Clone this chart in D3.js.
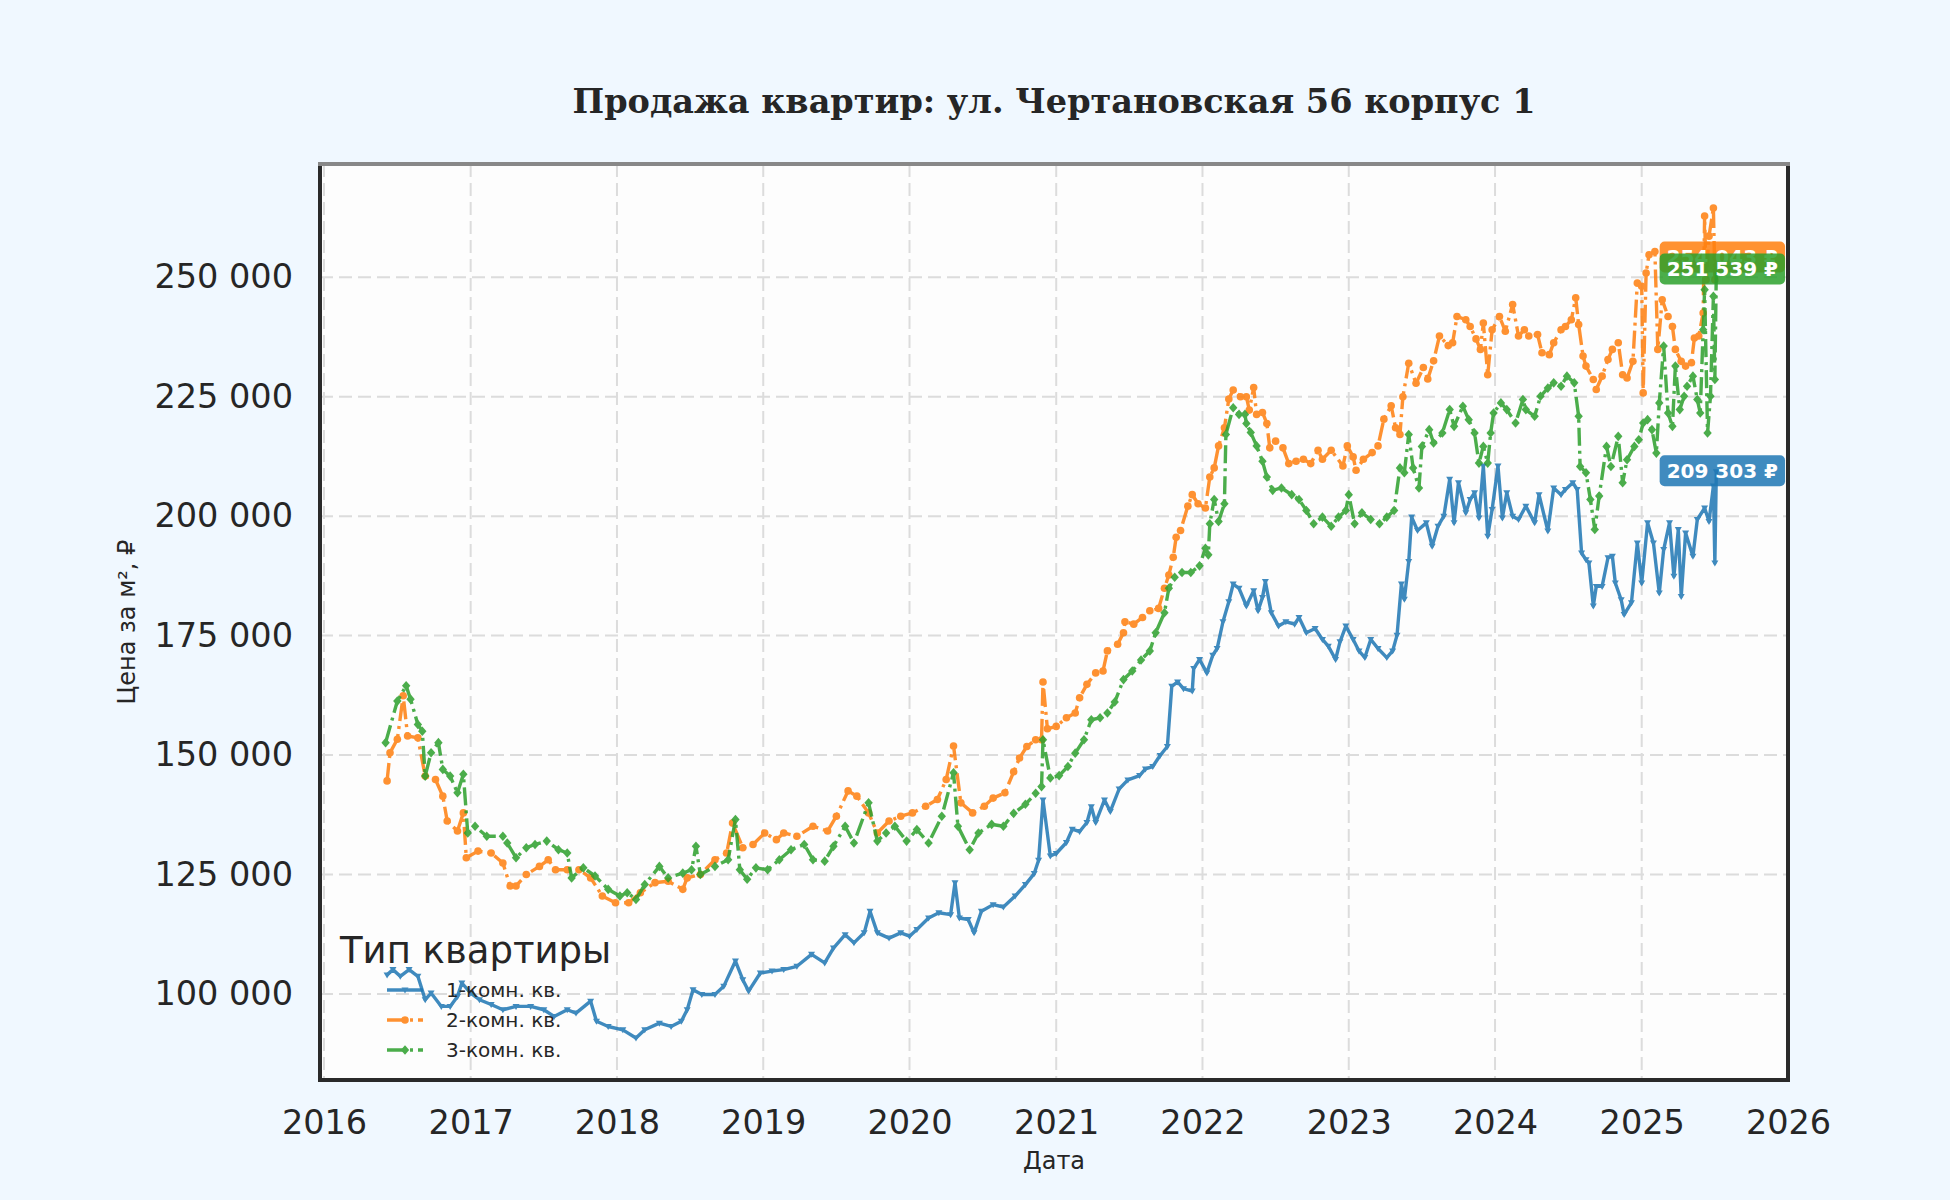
<!DOCTYPE html>
<html>
<head>
<meta charset="utf-8">
<script src="https://cdn.jsdelivr.net/npm/d3@7"></script>
<style>
    body { margin: 0; background: #f0f8ff; }
    svg { display: block; }
</style>
</head>
<body>
<svg id="chart"></svg>
<script>
// *** Data (decimal year, price per m2) ***
var seriesNames = ["1-комн. кв.", "2-комн. кв.", "3-комн. кв."];
var yearTicks = [2016, 2017, 2018, 2019, 2020, 2021, 2022, 2023, 2024, 2025, 2026];
var priceTicks = [100000, 125000, 150000, 175000, 200000, 225000, 250000];

var room1 = [
    [2016.43,104000],[2016.47,105100],[2016.52,103700],[2016.58,105100],[2016.64,103700],[2016.69,98800],[2016.73,100200],
    [2016.80,97400],[2016.86,97400],[2016.91,99500],[2016.94,102300],[2017.00,100200],[2017.06,98800],[2017.14,97800],
    [2017.22,96700],[2017.31,97400],[2017.41,97400],[2017.50,96700],[2017.57,95300],[2017.66,96700],[2017.72,96000],
    [2017.82,98500],[2017.86,94300],[2017.94,93200],[2018.04,92500],[2018.13,90800],[2018.19,92500],[2018.29,93900],
    [2018.37,93200],[2018.44,94300],[2018.48,96700],[2018.52,100900],[2018.58,99900],[2018.67,99900],[2018.73,101600],
    [2018.81,106900],[2018.86,103000],[2018.90,100600],[2018.98,104400],[2019.06,104800],[2019.14,105100],[2019.23,105800],
    [2019.33,108300],[2019.42,106500],[2019.48,109600],[2019.56,112400],[2019.62,110700],[2019.69,112800],[2019.73,117300],
    [2019.78,112800],[2019.86,111700],[2019.94,112800],[2020.00,112100],[2020.05,113500],[2020.13,115900],[2020.20,117000],
    [2020.28,116600],[2020.31,123300],[2020.34,115900],[2020.40,115600],[2020.44,112800],[2020.49,117300],[2020.57,118700],
    [2020.64,118200],[2020.72,120500],[2020.79,122900],[2020.85,125200],[2020.88,128000],[2020.91,140600],[2020.96,128900],
    [2021.00,129400],[2021.07,131700],[2021.11,134500],[2021.16,134000],[2021.21,135900],[2021.24,139200],[2021.27,135900],
    [2021.33,140600],[2021.37,138200],[2021.43,142900],[2021.49,144800],[2021.57,145700],[2021.61,147100],[2021.66,147600],
    [2021.71,149900],[2021.76,151800],[2021.79,164400],[2021.83,165300],[2021.87,163900],[2021.93,163400],[2021.94,168100],
    [2021.98,170000],[2022.03,167200],[2022.07,170900],[2022.10,172300],[2022.14,177900],[2022.18,182100],[2022.21,185800],
    [2022.25,184900],[2022.30,181200],[2022.35,184400],[2022.38,180200],[2022.41,183000],[2022.43,186300],[2022.47,179800],
    [2022.52,177000],[2022.57,177900],[2022.63,177400],[2022.66,178800],[2022.71,175600],[2022.77,176500],[2022.82,174200],
    [2022.86,172800],[2022.91,170000],[2022.94,173700],[2022.98,177000],[2023.03,174200],[2023.07,171800],[2023.11,170400],
    [2023.15,174200],[2023.20,172300],[2023.26,170400],[2023.30,171800],[2023.33,175100],[2023.36,185800],[2023.38,182600],
    [2023.41,190500],[2023.43,199800],[2023.47,197000],[2023.53,198600],[2023.57,193700],[2023.61,197900],[2023.65,200000],
    [2023.69,207700],[2023.72,198600],[2023.75,207000],[2023.80,200700],[2023.83,203500],[2023.86,204900],[2023.89,199600],
    [2023.92,210500],[2023.95,195800],[2023.98,201400],[2024.02,210500],[2024.05,199600],[2024.08,204900],[2024.12,200000],
    [2024.16,199300],[2024.21,202100],[2024.27,198600],[2024.30,204500],[2024.36,196900],[2024.40,205900],[2024.45,204500],
    [2024.48,205600],[2024.53,207000],[2024.56,205600],[2024.59,192300],[2024.62,190900],[2024.64,190200],[2024.67,181200],
    [2024.69,185300],[2024.73,185300],[2024.77,191300],[2024.80,191600],[2024.82,186000],[2024.86,182500],[2024.88,179400],
    [2024.93,181900],[2024.97,194400],[2025.00,186000],[2025.04,198600],[2025.08,194400],[2025.12,183900],[2025.15,193000],
    [2025.19,198600],[2025.22,187400],[2025.25,197200],[2025.27,183200],[2025.30,196500],[2025.35,191600],[2025.38,199300],
    [2025.43,201700],[2025.46,198900],[2025.49,206300],[2025.50,190200],[2025.51,209303]
];

var room2 = [
    [2016.43,144600],[2016.45,150500],[2016.50,153300],[2016.54,162400],[2016.57,154000],[2016.64,153600],[2016.69,145600],
    [2016.76,144900],[2016.81,141400],[2016.84,136200],[2016.91,134100],[2016.95,137900],[2016.97,128500],[2017.05,129900],
    [2017.14,129500],[2017.22,127400],[2017.27,122600],[2017.31,122600],[2017.38,125000],[2017.47,126700],[2017.53,128100],
    [2017.58,126000],[2017.66,126000],[2017.74,126000],[2017.82,124300],[2017.90,120500],[2017.99,119100],[2018.08,119100],
    [2018.16,121200],[2018.26,123300],[2018.35,123600],[2018.45,121900],[2018.48,124300],[2018.57,125000],[2018.67,128100],
    [2018.75,129500],[2018.79,135800],[2018.86,130600],[2018.93,131300],[2019.01,133700],[2019.09,132300],[2019.14,133700],
    [2019.23,133000],[2019.34,135100],[2019.44,134100],[2019.50,137200],[2019.58,142500],[2019.64,141400],[2019.72,137900],
    [2019.78,133700],[2019.86,136200],[2019.94,137200],[2020.02,137900],[2020.11,139300],[2020.19,140700],[2020.25,144900],
    [2020.30,151900],[2020.35,140000],[2020.43,137900],[2020.51,139300],[2020.57,141000],[2020.65,142100],[2020.71,146500],
    [2020.75,149400],[2020.80,151800],[2020.86,153200],[2020.90,153200],[2020.91,165300],[2020.94,155500],[2021.00,156000],
    [2021.07,157800],[2021.13,158800],[2021.16,162000],[2021.21,164800],[2021.27,167200],[2021.32,167600],[2021.35,171800],
    [2021.42,173200],[2021.46,175600],[2021.47,177900],[2021.53,177400],[2021.59,178800],[2021.64,180200],[2021.70,180700],
    [2021.74,184900],[2021.77,187700],[2021.80,191400],[2021.82,195600],[2021.85,197000],[2021.90,202100],[2021.93,204500],
    [2021.97,202600],[2022.02,201700],[2022.05,208200],[2022.08,210100],[2022.11,214700],[2022.15,218500],[2022.18,224500],
    [2022.21,226400],[2022.26,225000],[2022.30,225000],[2022.32,222200],[2022.35,226900],[2022.37,221300],[2022.41,221700],
    [2022.44,219400],[2022.46,214300],[2022.50,215700],[2022.55,214300],[2022.59,211000],[2022.64,211500],[2022.69,211900],
    [2022.74,211000],[2022.79,213800],[2022.82,211900],[2022.88,213800],[2022.96,210500],[2022.99,214700],[2023.03,212400],
    [2023.05,209600],[2023.10,211900],[2023.16,213300],[2023.20,214700],[2023.24,220300],[2023.29,223100],[2023.32,218500],
    [2023.35,217100],[2023.37,225000],[2023.41,232000],[2023.46,227800],[2023.51,231100],[2023.54,228700],[2023.58,232500],
    [2023.62,237700],[2023.68,235700],[2023.71,236300],[2023.74,241800],[2023.80,241100],[2023.83,239700],[2023.87,237100],
    [2023.90,234900],[2023.92,240400],[2023.95,229600],[2023.98,239000],[2024.03,241800],[2024.07,238700],[2024.12,244300],
    [2024.16,237700],[2024.20,239000],[2024.23,237700],[2024.29,238000],[2024.32,234200],[2024.37,233800],[2024.40,236300],
    [2024.45,239000],[2024.48,239700],[2024.52,241100],[2024.55,245700],[2024.57,240100],[2024.60,233500],[2024.62,231400],
    [2024.67,228600],[2024.69,226500],[2024.73,229300],[2024.77,232800],[2024.80,234900],[2024.84,236300],[2024.87,229600],
    [2024.90,228900],[2024.94,232400],[2024.97,248800],[2025.00,248100],[2025.01,225800],[2025.03,250900],[2025.05,254700],
    [2025.09,255400],[2025.11,234900],[2025.14,245300],[2025.18,241800],[2025.21,239700],[2025.23,234900],[2025.27,232400],
    [2025.30,231400],[2025.34,232100],[2025.36,237300],[2025.39,237700],[2025.42,242500],[2025.43,262800],[2025.44,249500],
    [2025.46,258600],[2025.49,264500],[2025.50,249500],[2025.51,254043]
];

var room3 = [
    [2016.42,152600],[2016.50,161300],[2016.56,164500],[2016.59,161700],[2016.64,156400],[2016.67,155000],[2016.69,145600],
    [2016.73,150500],[2016.78,152600],[2016.81,147000],[2016.86,145600],[2016.91,142100],[2016.95,146000],[2016.98,133700],
    [2017.03,135100],[2017.11,133000],[2017.22,133000],[2017.25,131600],[2017.31,128500],[2017.38,130600],[2017.44,131300],
    [2017.52,132000],[2017.60,130200],[2017.66,129500],[2017.69,124300],[2017.77,126400],[2017.85,124700],[2017.94,121900],
    [2018.02,120500],[2018.07,121200],[2018.13,119800],[2018.19,122900],[2018.29,126700],[2018.35,124300],[2018.45,125300],
    [2018.51,126000],[2018.54,130900],[2018.57,125000],[2018.67,126700],[2018.76,128100],[2018.81,136500],[2018.84,126000],
    [2018.89,124000],[2018.95,126400],[2019.03,126000],[2019.11,128100],[2019.19,130200],[2019.28,131300],[2019.34,128100],
    [2019.42,127800],[2019.48,130900],[2019.56,135100],[2019.62,131600],[2019.72,140000],[2019.78,132000],[2019.84,133700],
    [2019.90,135100],[2019.98,132000],[2020.05,134400],[2020.13,131600],[2020.22,137200],[2020.30,146300],[2020.33,135100],
    [2020.41,130200],[2020.47,133700],[2020.56,135500],[2020.64,135100],[2020.71,137800],[2020.79,139700],[2020.86,142000],
    [2020.90,143400],[2020.91,153200],[2020.96,145200],[2021.02,145700],[2021.08,147600],[2021.13,150400],[2021.19,153200],
    [2021.24,157400],[2021.30,157800],[2021.35,158800],[2021.40,161100],[2021.46,165800],[2021.52,167600],[2021.58,169900],
    [2021.64,171800],[2021.68,175600],[2021.74,179800],[2021.77,184900],[2021.81,187200],[2021.86,188200],[2021.92,188200],
    [2021.98,189600],[2022.02,193300],[2022.04,191900],[2022.05,198400],[2022.08,203500],[2022.11,198900],[2022.15,202600],
    [2022.16,217100],[2022.21,222700],[2022.25,221300],[2022.29,221300],[2022.30,219400],[2022.33,217500],[2022.37,214700],
    [2022.41,211500],[2022.44,208200],[2022.48,205400],[2022.54,205900],[2022.61,204500],[2022.66,203500],[2022.71,201200],
    [2022.76,198400],[2022.82,199800],[2022.88,197900],[2022.93,199800],[2022.98,201200],[2023.00,204500],[2023.04,198400],
    [2023.09,200700],[2023.15,199300],[2023.21,198400],[2023.26,199800],[2023.31,201200],[2023.35,210100],[2023.38,209100],
    [2023.41,217100],[2023.44,210100],[2023.48,205900],[2023.50,214600],[2023.55,218100],[2023.58,215300],[2023.64,217400],
    [2023.69,222300],[2023.72,218800],[2023.78,223000],[2023.82,220200],[2023.86,217400],[2023.89,211100],[2023.92,214600],
    [2023.95,211100],[2023.97,217400],[2023.99,221600],[2024.04,223700],[2024.08,222300],[2024.14,219500],[2024.19,224400],
    [2024.21,222300],[2024.27,220900],[2024.31,225100],[2024.36,226800],[2024.40,227900],[2024.45,227200],[2024.49,229300],
    [2024.54,227900],[2024.57,220900],[2024.58,210400],[2024.62,209100],[2024.65,203500],[2024.68,197200],[2024.71,204200],
    [2024.76,214600],[2024.79,210400],[2024.84,216700],[2024.87,207000],[2024.90,211800],[2024.95,214600],[2024.98,216000],
    [2025.01,219500],[2025.04,220200],[2025.07,218100],[2025.10,213200],[2025.12,223700],[2025.15,235600],[2025.18,221600],
    [2025.21,218800],[2025.23,231400],[2025.26,222300],[2025.29,225100],[2025.31,227200],[2025.35,229300],[2025.38,224400],
    [2025.40,221600],[2025.42,239000],[2025.43,247400],[2025.45,217400],[2025.47,225100],[2025.49,246000],[2025.50,228600],
    [2025.51,251539]
];


// *** Define Our Variables ***
var svgWidth = 1950, svgHeight = 1200;
var plotLeft = 320, plotRight = 1788, plotTop = 164, plotBottom = 1080;
var colors = ["#1f77b4", "#ff7f0e", "#2ca02c"];
var dashes = [null, "18,5,3,5", "18,5,3,5"];
var allSeries = [room1, room2, room3];

// decimal year -> Date
function toDate(t) {
    var y = Math.floor(t);
    var a = new Date(y, 0, 1), b = new Date(y + 1, 0, 1);
    return new Date(+a + (t - y) * (b - a));
}

function fmt(v) {
    return d3.format(",")(v).replace(/,/g, " ");
}


// *** Selecting the SVG Tag ***
var svg = d3.select("#chart")
    .attr("width", svgWidth)
    .attr("height", svgHeight)
    .style("font-family", "'DejaVu Sans', sans-serif");

svg.append("rect")
    .attr("width", svgWidth)
    .attr("height", svgHeight)
    .attr("fill", "#f0f8ff");

svg.append("rect")
    .attr("x", plotLeft)
    .attr("y", plotTop)
    .attr("width", plotRight - plotLeft)
    .attr("height", plotBottom - plotTop)
    .attr("fill", "#fdfdfd");


// *** Defining the scales ***
var xScale = d3.scaleTime()
    .domain([new Date(2015, 11, 22), new Date(2026, 0, 1)])
    .range([plotLeft, plotRight]);

var yScale = d3.scaleLinear()
    .domain([82000, 273700])
    .range([plotBottom, plotTop]);


// *** Grid ***
var grid = svg.append("g");
grid.selectAll(".vg")
    .data(yearTicks)
    .enter()
    .append("line")
    .attr("x1", function (d) { return xScale(new Date(d, 0, 1)); })
    .attr("x2", function (d) { return xScale(new Date(d, 0, 1)); })
    .attr("y1", plotTop)
    .attr("y2", plotBottom)
    .attr("stroke", "#dcdcdc")
    .attr("stroke-width", 2)
    .attr("stroke-dasharray", "13,6");

grid.selectAll(".hg")
    .data(priceTicks)
    .enter()
    .append("line")
    .attr("x1", plotLeft)
    .attr("x2", plotRight)
    .attr("y1", function (d) { return yScale(d); })
    .attr("y2", function (d) { return yScale(d); })
    .attr("stroke", "#dcdcdc")
    .attr("stroke-width", 2)
    .attr("stroke-dasharray", "13,6");


// *** The Axes ***
var x_axis = d3.axisBottom(xScale)
    .tickValues(yearTicks.map(function (y) { return new Date(y, 0, 1); }))
    .tickFormat(d3.timeFormat("%Y"))
    .tickSize(0)
    .tickPadding(30);

var y_axis = d3.axisLeft(yScale)
    .tickValues(priceTicks)
    .tickFormat(fmt)
    .tickSize(0)
    .tickPadding(27);

var gx = svg.append("g")
    .attr("transform", "translate(0," + plotBottom + ")")
    .call(x_axis);
var gy = svg.append("g")
    .attr("transform", "translate(" + plotLeft + ",0)")
    .call(y_axis);

[gx, gy].forEach(function (g) {
    g.select(".domain").remove();
    g.selectAll("text")
        .attr("fill", "#262626")
        .style("font-size", "33.5px")
        .style("font-family", "'DejaVu Sans', sans-serif");
});


// *** Lines and markers ***
var line = d3.line()
    .x(function (d) { return xScale(toDate(d[0])); })
    .y(function (d) { return yScale(d[1]); });

var plot = svg.append("g");

function marker(sel, i) {
    if (i === 0) {
        sel.append("path")
            .attr("d", "M-3.5,-2.5L3.5,-2.5L0,3.5Z");
    } else if (i === 1) {
        sel.append("circle").attr("r", 3.8);
    } else {
        sel.append("path")
            .attr("d", "M0,-4.8L4.2,0L0,4.8L-4.2,0Z");
    }
}

allSeries.forEach(function (data, i) {
    var g = plot.append("g").attr("opacity", 0.85);
    g.append("path")
        .datum(data)
        .attr("d", line)
        .attr("fill", "none")
        .attr("stroke", colors[i])
        .attr("stroke-width", 3.4)
        .attr("stroke-linejoin", "round")
        .attr("stroke-dasharray", dashes[i]);

    g.selectAll(".m")
        .data(data)
        .enter()
        .append("g")
        .attr("transform", function (d) {
            return "translate(" + xScale(toDate(d[0])) + "," + yScale(d[1]) + ")";
        })
        .attr("fill", colors[i])
        .each(function () { marker(d3.select(this), i); });
});


// *** Last value labels ***
[1, 2, 0].forEach(function (i) {
    var last = allSeries[i][allSeries[i].length - 1];
    var cx = xScale(toDate(last[0])) + 6, cy = yScale(last[1]) - 1;
    var g = svg.append("g");
    var t = g.append("text")
        .attr("x", cx)
        .attr("y", cy)
        .attr("dy", "0.35em")
        .attr("text-anchor", "middle")
        .attr("fill", "#ffffff")
        .style("font-size", "20px")
        .style("font-weight", "bold")
        .text(fmt(last[1]) + " ₽");
    var bb = t.node().getBBox();
    g.insert("rect", "text")
        .attr("x", bb.x - 7)
        .attr("y", cy - 15.5)
        .attr("width", bb.width + 14)
        .attr("height", 31)
        .attr("rx", 5)
        .attr("fill", colors[i])
        .attr("opacity", 0.85);
});


// *** Spines ***
svg.append("line")
    .attr("x1", plotLeft).attr("x2", plotLeft).attr("y1", plotTop).attr("y2", plotBottom + 2)
    .attr("stroke", "#2a2a2a").attr("stroke-width", 4);
svg.append("line")
    .attr("x1", plotRight).attr("x2", plotRight).attr("y1", plotTop).attr("y2", plotBottom + 2)
    .attr("stroke", "#2a2a2a").attr("stroke-width", 4);
svg.append("line")
    .attr("x1", plotLeft - 2).attr("x2", plotRight + 2).attr("y1", plotBottom).attr("y2", plotBottom)
    .attr("stroke", "#2a2a2a").attr("stroke-width", 4);
svg.append("line")
    .attr("x1", plotLeft - 2).attr("x2", plotRight + 2).attr("y1", plotTop).attr("y2", plotTop)
    .attr("stroke", "#888888").attr("stroke-width", 4);


// *** Legend ***
var legend = svg.append("g");
legend.append("text")
    .attr("x", 340)
    .attr("y", 963)
    .attr("fill", "#262626")
    .style("font-size", "37px")
    .text("Тип квартиры");

seriesNames.forEach(function (name, i) {
    var yy = 990 + i * 30;
    var row = legend.append("g").attr("opacity", 0.85);
    row.append("line")
        .attr("x1", 387).attr("x2", 423)
        .attr("y1", yy).attr("y2", yy)
        .attr("stroke", colors[i])
        .attr("stroke-width", 3.4)
        .attr("stroke-dasharray", dashes[i]);
    var m = row.append("g")
        .attr("transform", "translate(405," + yy + ")")
        .attr("fill", colors[i]);
    marker(m, i);
    legend.append("text")
        .attr("x", 446)
        .attr("y", yy + 7)
        .attr("fill", "#262626")
        .style("font-size", "20px")
        .text(name);
});


// *** Titles ***
svg.append("text")
    .attr("x", (plotLeft + plotRight) / 2)
    .attr("y", 113)
    .attr("text-anchor", "middle")
    .attr("fill", "#262626")
    .style("font-family", "'DejaVu Serif', serif")
    .style("font-weight", "bold")
    .style("font-size", "33.5px")
    .text("Продажа квартир: ул. Чертановская 56 корпус 1");

svg.append("text")
    .attr("x", (plotLeft + plotRight) / 2)
    .attr("y", 1169)
    .attr("text-anchor", "middle")
    .attr("fill", "#262626")
    .style("font-size", "24px")
    .text("Дата");

svg.append("text")
    .attr("transform", "translate(135," + ((plotTop + plotBottom) / 2) + ") rotate(-90)")
    .attr("text-anchor", "middle")
    .attr("fill", "#262626")
    .style("font-size", "24px")
    .text("Цена за м², ₽");
</script>
</body>
</html>
